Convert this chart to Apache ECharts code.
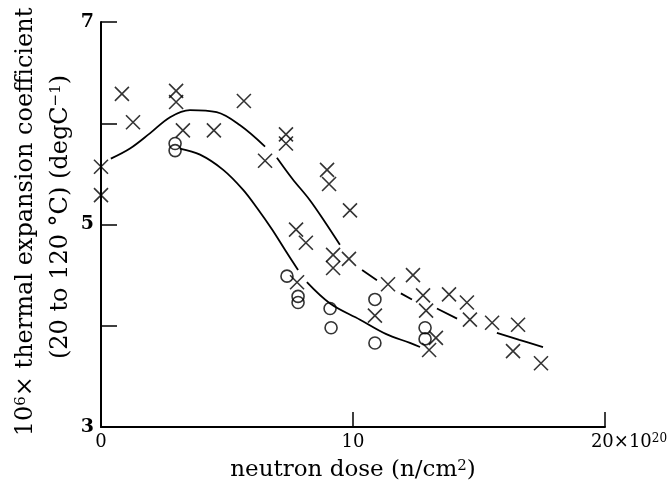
<!DOCTYPE html>
<html><head><meta charset="utf-8">
<script src="https://cdn.jsdelivr.net/npm/echarts@6/dist/echarts.min.js"></script>
<style>html,body{margin:0;padding:0;background:#fff}#c{width:672px;height:488px}</style>
</head><body><div id="c"></div>
<script>
// ---- data ----
const crossX = [0, 0, 0.83, 1.27, 2.98, 2.98, 3.25, 4.48, 5.67, 6.51, 7.34, 7.34, 8.97, 9.05, 9.88, 7.74, 8.13, 9.21, 9.21, 9.84, 7.78, 11.39, 12.38, 12.78, 13.81, 14.52, 12.90, 14.64, 15.52, 16.55, 13.29, 13.02, 16.35, 17.46, 10.87];
const crossY = [5.57, 5.29, 6.29, 6.01, 6.32, 6.21, 5.93, 5.93, 6.22, 5.63, 5.89, 5.80, 5.54, 5.40, 5.14, 4.95, 4.82, 4.70, 4.57, 4.66, 4.43, 4.41, 4.50, 4.30, 4.31, 4.23, 4.15, 4.06, 4.03, 4.01, 3.88, 3.76, 3.75, 3.63, 4.10];
const circleX = [2.94, 2.94, 7.38, 7.82, 7.82, 9.09, 9.13, 10.87, 10.87, 12.86, 12.86];
const circleY = [5.80, 5.73, 4.49, 4.29, 4.23, 4.17, 3.98, 4.26, 3.83, 3.98, 3.87];
// upper curve (null = break in the drawn line)
const upperX = [0.39, 1.15, 1.94, 2.74, 3.53, 4.59, 5.52, 6.51, null, 6.98, 7.6, 8.29, 8.9, 9.48, null, 10.36, 10.95, null, 11.9, 12.34, null, 13.33, 14.13, null, 15.71, 16.6, 17.54];
const upperY = [5.65, 5.75, 5.90, 6.06, 6.13, 6.11, 5.98, 5.77, null, 5.66, 5.45, 5.24, 5.02, 4.80, null, 4.55, 4.45, null, 4.32, 4.26, null, 4.17, 4.07, null, 3.93, 3.86, 3.79];
const lowerX = [3.13, 3.93, 4.85, 5.65, 6.2, 6.79, 7.3, 7.82, null, 8.17, 9.09, 10.28, 11.3, 12.26, 12.66];
const lowerY = [5.75, 5.69, 5.54, 5.34, 5.16, 4.95, 4.75, 4.55, null, 4.43, 4.22, 4.06, 3.92, 3.83, 3.79];
const xTickLabels = {0: '0', 10: '10', 20: '{pad|}20×10{sup|20}'};
const yTickLabels = {3: '3', 4: '', 5: '5', 6: '', 7: '7'};
const xTitle = 'neutron dose (n/cm{sup|2})';
const yTitle1 = '10{sup|6}× thermal expansion coefficient';
const yTitle2 = '(20 to 120 °C) (degC{sup|−1})';

const FONT = 'DejaVu Serif';
const pairs = (xs, ys) => xs.map((x, i) => (x === null ? ['-', '-'] : [x, ys[i]]));
const lineStyleBase = {color: '#000', width: 1.8};
const supStyle = sz => ({fontSize: sz, verticalAlign: 'top', fontFamily: FONT, color: '#000', fill: '#000'});

const chart = echarts.init(document.getElementById('c'));
chart.setOption({
  animation: false,
  backgroundColor: '#fff',
  grid: {left: 101, right: 67, top: 22, bottom: 61},
  xAxis: {
    type: 'value', min: 0, max: 20, interval: 10,
    axisLine: {lineStyle: {color: '#000', width: 2}},
    axisTick: {inside: true, length: 15, lineStyle: {color: '#000', width: 1.5}},
    splitLine: {show: false},
    axisLabel: {
      color: '#000', fontFamily: FONT, fontSize: 18, margin: 6,
      formatter: v => xTickLabels[v] !== undefined ? xTickLabels[v] : '',
      rich: {pad: {width: 48}, sup: supStyle(12)}
    },
    name: xTitle, nameLocation: 'middle', nameGap: 32,
    nameTextStyle: {color: '#000', fontFamily: FONT, fontSize: 23, rich: {sup: supStyle(15)}}
  },
  yAxis: {
    type: 'value', min: 3, max: 7, interval: 1,
    axisLine: {lineStyle: {color: '#000', width: 2}},
    axisTick: {inside: true, length: 16, lineStyle: {color: '#000', width: 1.5}},
    splitLine: {show: false},
    axisLabel: {color: '#000', fontFamily: FONT, fontSize: 19, margin: 7, fontWeight: 'bold',
      formatter: v => yTickLabels[v] !== undefined ? yTickLabels[v] : ''}
  },
  graphic: [
    {type: 'text', x: 26, y: 222, rotation: Math.PI / 2,
      style: {text: yTitle1, fill: '#000', font: '24px "DejaVu Serif"', align: 'center', verticalAlign: 'middle',
        rich: {sup: supStyle(15)}}},
    {type: 'text', x: 61, y: 217, rotation: Math.PI / 2,
      style: {text: yTitle2, fill: '#000', font: '24px "DejaVu Serif"', align: 'center', verticalAlign: 'middle',
        rich: {sup: supStyle(15)}}}
  ],
  series: [
    {type: 'line', data: pairs(upperX, upperY), smooth: 0.35, connectNulls: false, symbol: 'none',
      lineStyle: lineStyleBase},
    {type: 'line', data: pairs(lowerX, lowerY), smooth: 0.35, connectNulls: false, symbol: 'none',
      lineStyle: lineStyleBase},
    {type: 'scatter', data: pairs(crossX, crossY), symbol: 'path://M0,0L1,1M1,0L0,1', symbolSize: 14,
      itemStyle: {color: 'none', borderColor: '#000', borderWidth: 1.6}},
    {type: 'scatter', data: pairs(circleX, circleY), symbol: 'circle', symbolSize: 12,
      itemStyle: {color: 'none', borderColor: '#000', borderWidth: 1.6}}
  ]
});
</script></body></html>
